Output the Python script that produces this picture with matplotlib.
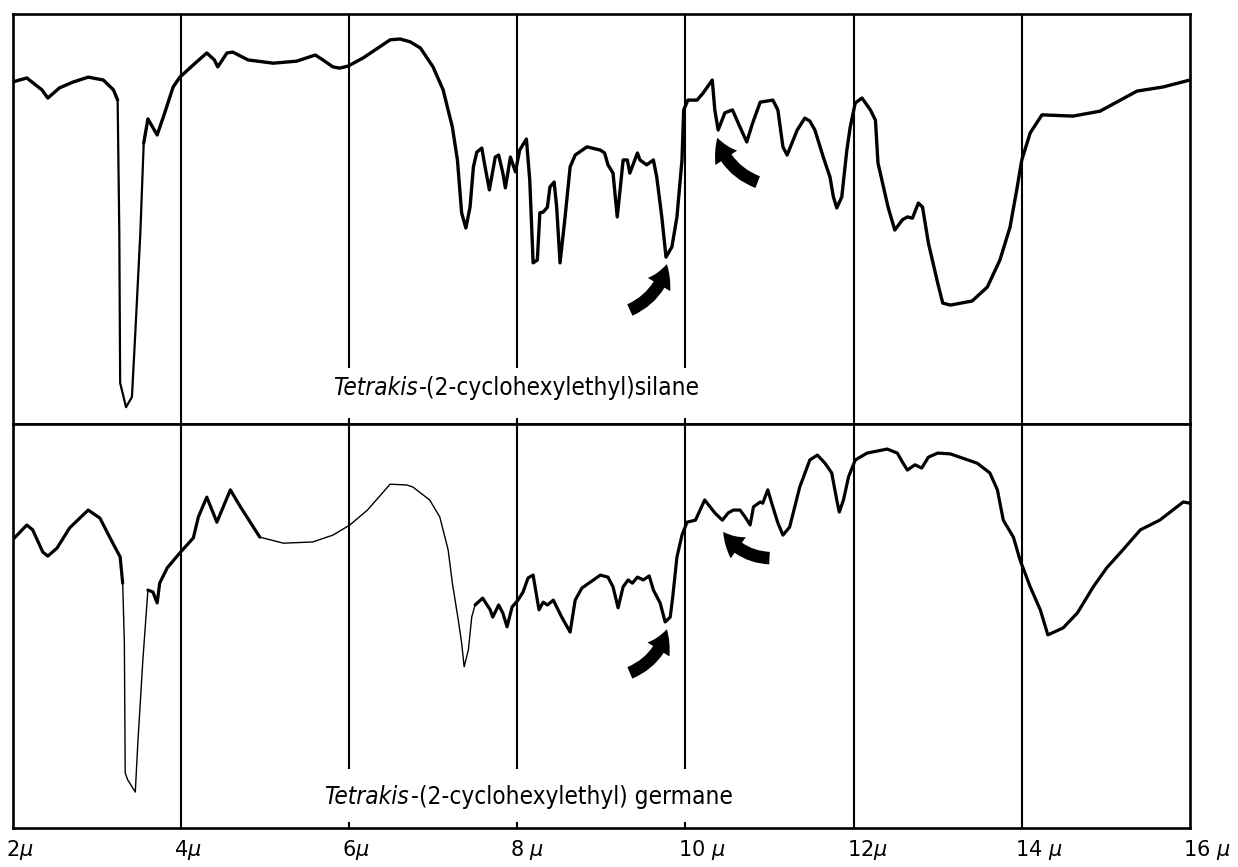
import numpy as np
import matplotlib
matplotlib.use("Agg")
import matplotlib.pyplot as plt
from matplotlib.patches import FancyArrowPatch
from matplotlib import font_manager as fm
import matplotlib.transforms as mtransforms

# ---------------- data (wavelength in microns, transmittance in % of panel) -------------
silane_wl = [2.00, 2.17, 2.35, 2.42, 2.56, 2.72, 2.90, 3.08, 3.20, 3.25, 3.27, 3.28, 3.35, 3.42,
             3.46, 3.52, 3.56, 3.61, 3.72, 3.81, 3.91, 3.99, 4.15, 4.31, 4.40, 4.44, 4.55, 4.62,
             4.80, 5.10, 5.38, 5.60, 5.69, 5.81, 5.89, 5.99, 6.17, 6.49, 6.61, 6.73, 6.85, 7.00,
             7.12, 7.23, 7.29, 7.34, 7.39, 7.44, 7.48, 7.52, 7.58, 7.61, 7.67, 7.74, 7.78, 7.83,
             7.86, 7.92, 7.98, 8.03, 8.11, 8.15, 8.19, 8.24, 8.27, 8.31, 8.36, 8.39, 8.44, 8.47,
             8.51, 8.57, 8.63, 8.69, 8.83, 8.99, 9.04, 9.08, 9.14, 9.19, 9.22, 9.26, 9.31, 9.34,
             9.43, 9.46, 9.54, 9.62, 9.66, 9.72, 9.77, 9.84, 9.90, 9.96, 9.98, 10.03, 10.14,
             10.21, 10.32, 10.35, 10.39, 10.47, 10.56, 10.65, 10.73, 10.80, 10.89, 11.04, 11.10,
             11.16, 11.21, 11.33, 11.42, 11.48, 11.54, 11.64, 11.72, 11.76, 11.80, 11.86, 11.92,
             11.96, 12.02, 12.10, 12.20, 12.26, 12.29, 12.41, 12.49, 12.58, 12.64, 12.70, 12.77,
             12.82, 12.89, 13.00, 13.06, 13.15, 13.41, 13.59, 13.74, 13.86, 13.94, 14.00, 14.10,
             14.24, 14.61, 14.93, 15.37, 15.68, 16.00]
silane_t = [83.4, 84.4, 81.5, 79.5, 82.0, 83.4, 84.6, 83.9, 81.5, 79.0, 46.6, 10.0, 4.1, 6.6,
            22.2, 46.6, 68.5, 74.4, 70.5, 75.9, 82.2, 84.6, 87.6, 90.5, 88.8, 87.1, 90.5, 90.7,
            88.8, 88.0, 88.5, 90.0, 88.8, 87.1, 86.8, 87.3, 89.3, 93.7, 93.9, 93.2, 91.7, 87.1,
            81.5, 72.4, 64.4, 51.5, 47.8, 52.9, 62.7, 66.3, 67.3, 63.7, 57.1, 65.1, 65.6, 61.2,
            57.6, 65.1, 61.5, 66.8, 69.5, 59.5, 39.3, 40.0, 51.5, 51.7, 52.9, 57.8, 59.0, 52.9,
            39.3, 50.5, 62.7, 65.6, 67.6, 66.8, 66.1, 63.2, 61.2, 50.5, 56.3, 64.4, 64.4, 61.2,
            66.1, 64.4, 63.2, 64.4, 60.2, 50.5, 40.7, 43.2, 50.5, 64.4, 76.6, 79.0, 79.0,
            80.7, 83.9, 76.6, 71.7, 75.9, 76.6, 72.4, 68.8, 73.4, 78.5, 79.0, 76.6,
            67.6, 65.6, 71.7, 74.6, 73.9, 71.7, 65.1, 60.2, 55.4, 52.7, 55.4, 66.8,
            72.4, 78.3, 79.5, 76.6, 74.1, 63.7, 52.9, 47.3, 49.8, 50.5, 50.2, 53.9,
            52.9, 44.1, 34.4, 29.5, 29.0, 30.0, 33.4, 40.0, 48.0, 57.1, 64.4, 71.0,
            75.4, 75.1, 76.3, 81.2, 82.2, 83.9]

germane_wl = [2.00, 2.17, 2.24, 2.36, 2.42, 2.53, 2.68, 2.90, 3.04, 3.16, 3.28, 3.31, 3.33, 3.34,
              3.37, 3.46, 3.49, 3.55, 3.61, 3.67, 3.72, 3.75, 3.84, 3.99, 4.15, 4.21, 4.31, 4.43,
              4.59, 4.71, 4.94, 5.22, 5.57, 5.81, 6.01, 6.22, 6.49, 6.69, 6.76, 6.96, 7.08, 7.18,
              7.23, 7.30, 7.34, 7.37, 7.42, 7.46, 7.50, 7.59, 7.68, 7.71, 7.78, 7.83, 7.88, 7.94,
              8.01, 8.07, 8.13, 8.19, 8.24, 8.26, 8.31, 8.36, 8.43, 8.53, 8.63, 8.69, 8.77, 8.99,
              9.08, 9.14, 9.20, 9.26, 9.32, 9.37, 9.43, 9.50, 9.57, 9.62, 9.70, 9.76, 9.82, 9.85,
              9.90, 9.96, 10.02, 10.12, 10.23, 10.35, 10.44, 10.51, 10.57, 10.65, 10.71, 10.77,
              10.81, 10.89, 10.92, 10.98, 11.04, 11.10, 11.16, 11.24, 11.36, 11.48, 11.57, 11.66,
              11.74, 11.80, 11.83, 11.88, 11.94, 12.02, 12.16, 12.40, 12.52, 12.58, 12.64, 12.73,
              12.81, 12.89, 13.00, 13.15, 13.47, 13.62, 13.71, 13.78, 13.90, 13.98, 14.10, 14.22,
              14.31, 14.49, 14.66, 14.85, 15.01, 15.20, 15.41, 15.64, 15.92, 16.00]
germane_t = [71.3, 75.0, 73.8, 68.3, 67.3, 69.3, 74.3, 78.7, 76.7, 71.8, 67.1, 60.6, 45.8, 13.6,
             11.9, 8.9, 21.0, 41.6, 58.9, 58.4, 55.7, 60.6, 64.4, 68.1, 71.8, 77.0, 81.9, 75.7,
             83.7, 79.5, 72.0, 70.5, 70.8, 72.5, 75.0, 78.7, 85.1, 84.9, 84.4, 81.2, 77.0, 68.8,
             60.6, 51.5, 45.8, 39.9, 44.1, 52.2, 55.2, 56.9, 54.0, 52.2, 55.2, 53.2, 49.8, 54.7,
             56.4, 58.4, 61.9, 62.6, 56.4, 54.0, 55.9, 55.2, 56.4, 52.2, 48.5, 56.4, 59.4, 62.6,
             62.1, 59.7, 54.5, 59.7, 61.4, 60.6, 62.1, 61.4, 62.4, 58.9, 55.7, 51.0, 52.2, 57.2,
             67.1, 72.5, 75.7, 76.2, 81.2, 78.0, 76.2, 78.0, 78.7, 78.7, 77.0, 75.0,
             79.5, 80.7, 80.4, 83.7, 79.5, 75.5, 72.5, 74.5, 84.4, 91.1, 92.3, 90.3,
             87.9, 81.2, 78.2, 81.2, 86.9, 91.1, 92.8, 93.8, 92.8, 90.6, 88.6, 89.9,
             89.1, 91.8, 92.8, 92.6, 90.3, 87.9, 83.7, 76.2, 72.0, 66.3, 59.7, 54.0,
             47.8, 49.5, 53.2, 59.7, 64.4, 68.8, 73.8, 76.2, 80.7, 80.4]

grid_wl = [4, 6, 8, 10, 12, 14]
tick_wl = [2, 4, 6, 8, 10, 12, 14, 16]
tick_labels = ["2$\\mu$", "4$\\mu$", "6$\\mu$", "8 $\\mu$", "10 $\\mu$", "12$\\mu$", "14 $\\mu$", "16 $\\mu$"]

silane_name = ("Tetrakis", "-(2-cyclohexylethyl)silane")
germane_name = ("Tetrakis", "-(2-cyclohexylethyl) germane")

# arrows: (tail_wl, tail_t, tip_wl, tip_t)
silane_arrows = [(9.34, 27.8, 9.78, 39.0), (10.86, 59.0, 10.38, 69.8)]
germane_arrows = [(9.34, 38.4, 9.78, 49.2), (11.00, 66.8, 10.45, 73.3)]

# ---------------- styling -------------------------------------------------------------
plt.rcParams["mathtext.fontset"] = "dejavusans"
names = {f.name for f in fm.fontManager.ttflist}
label_family = "Liberation Sans Narrow" if "Liberation Sans Narrow" in names else "DejaVu Sans"

W, H = 1238, 867
fig = plt.figure(figsize=(W / 100, H / 100), dpi=100)
left = 12.5 / W
width = (1190 - 12.5) / W
ax_top = fig.add_axes([left, 1 - 424 / H, width, (424 - 14) / H])
ax_bot = fig.add_axes([left, 1 - 828 / H, width, (828 - 424) / H])


def draw_curve(ax, x, y, thin_ranges, lw_thick, lw_thin):
    x = np.asarray(x, float)
    y = np.asarray(y, float)
    mids = (x[:-1] + x[1:]) / 2
    thin = np.zeros(len(mids), bool)
    for a, b in thin_ranges:
        thin |= (mids >= a) & (mids <= b)
    start = 0
    for i in range(1, len(thin) + 1):
        if i == len(thin) or thin[i] != thin[start]:
            ax.plot(x[start:i + 1], y[start:i + 1], color="black",
                    lw=lw_thin if thin[start] else lw_thick,
                    solid_joinstyle="round", solid_capstyle="round", zorder=3)
            start = i


for ax in (ax_top, ax_bot):
    ax.set_xlim(2, 16)
    ax.set_ylim(0, 100)
    ax.set_yticks([])
    for s in ax.spines.values():
        s.set_linewidth(1.9)
    ax.tick_params(axis="x", length=0)

# grid lines (some interrupted by the compound labels)
for ax, stop in ((ax_top, 13.7), (ax_bot, 14.6)):
    for g in grid_wl:
        if g in (6, 8, 10):
            ax.vlines(g, stop, 100, color="black", lw=1.5, zorder=2)
            ax.vlines(g, 0, 1.5, color="black", lw=1.5, zorder=2)
        else:
            ax.vlines(g, 0, 100, color="black", lw=1.5, zorder=2)

draw_curve(ax_top, silane_wl, silane_t, [(3.26, 3.56)], 2.4, 1.6)
draw_curve(ax_bot, germane_wl, germane_t, [(3.30, 3.60), (5.05, 7.48)], 2.3, 1.0)

for ax, arrows in ((ax_top, silane_arrows), (ax_bot, germane_arrows)):
    for i, (x0, y0, x1, y1) in enumerate(arrows):
        rad = 0.25 if i == 0 else -0.25
        ar = FancyArrowPatch((x0, y0), (x1, y1), connectionstyle=f"arc3,rad={rad}",
                             arrowstyle="simple,head_width=1.25,head_length=1.05,tail_width=0.6",
                             mutation_scale=15, color="black", lw=0, zorder=4,
                             shrinkA=0, shrinkB=0)
        ax.add_patch(ar)


def compound_label(ax, x, y, parts, size):
    t1 = ax.text(x, y, parts[0], fontsize=size, style="italic", family=label_family,
                 fontstretch="condensed", ha="left", va="baseline", zorder=5)
    ax.annotate(parts[1], xy=(1, 0), xycoords=t1, xytext=(1, 0), textcoords="offset points",
                fontsize=size, family=label_family, fontstretch="condensed",
                ha="left", va="bottom", zorder=5)


compound_label(ax_top, 5.81, 7.0, silane_name, 17.5)
compound_label(ax_bot, 5.71, 6.0, germane_name, 17.5)

ax_top.set_xticks([])
ax_bot.set_xticks(tick_wl)
ax_bot.set_xticklabels(tick_labels, fontsize=15, family=label_family)
ax_bot.tick_params(axis="x", pad=7)
offset = mtransforms.ScaledTranslation(-7 / 100, 0, fig.dpi_scale_trans)
for lab in ax_bot.get_xticklabels():
    lab.set_horizontalalignment("left")
    lab.set_transform(lab.get_transform() + offset)

fig.savefig("out.png", dpi=100)
